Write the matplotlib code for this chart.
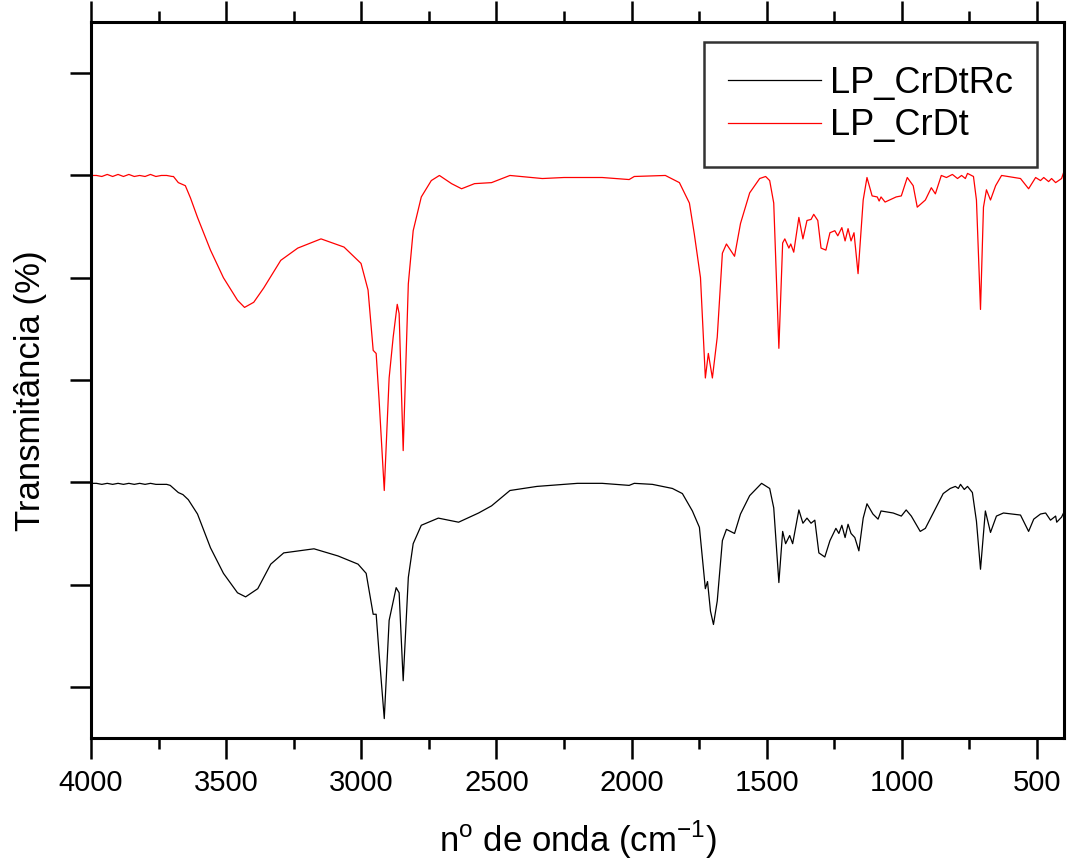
import matplotlib.pyplot as plt
from matplotlib.ticker import MultipleLocator, NullFormatter

plt.rcParams['font.family'] = ['Liberation Sans', 'DejaVu Sans']
plt.rcParams['mathtext.fontset'] = 'custom'
plt.rcParams['mathtext.rm'] = 'Liberation Sans'

# LP_CrDt (red, offset spectrum)
wn_red = [4000, 3980, 3960, 3940, 3920, 3900, 3880, 3860, 3840, 3820, 3800, 3780, 3760, 3740,
          3720, 3700, 3695, 3677, 3660, 3651, 3632, 3606, 3558, 3510, 3458, 3432, 3398, 3361,
          3298, 3235, 3149, 3064, 3001, 2975, 2956, 2945, 2934, 2915, 2897, 2882, 2867, 2860,
          2845, 2826, 2808, 2778, 2741, 2711, 2666, 2629, 2581, 2518, 2450, 2330, 2250, 2109,
          2009, 1990, 1875, 1823, 1786, 1768, 1745, 1738, 1727, 1716, 1701, 1683, 1664, 1649,
          1619, 1597, 1563, 1526, 1504, 1489, 1474, 1455, 1441, 1433, 1418, 1411, 1400, 1381,
          1366, 1351, 1336, 1326, 1311, 1299, 1281, 1266, 1248, 1237, 1222, 1210, 1199, 1188,
          1177, 1162, 1143, 1129, 1110, 1091, 1084, 1077, 1062, 1021, 1002, 980, 958, 943,
          913, 891, 876, 854, 835, 813, 794, 779, 765, 757, 735, 724, 709, 698, 687, 672, 653,
          631, 561, 531, 505, 487, 475, 457, 446, 431, 409, 400]
t_red = [5.00, 5.00, 4.99, 5.01, 4.99, 5.01, 4.99, 5.01, 4.99, 5.00, 4.99, 5.01, 4.99, 5.00,
         5.00, 4.99, 4.99, 4.93, 4.91, 4.90, 4.78, 4.59, 4.27, 4.00, 3.78, 3.71, 3.76, 3.90,
         4.17, 4.29, 4.38, 4.30, 4.14, 3.88, 3.29, 3.26, 2.80, 1.92, 3.02, 3.42, 3.74, 3.65,
         2.31, 3.94, 4.46, 4.79, 4.95, 5.00, 4.92, 4.87, 4.92, 4.93, 5.00, 4.97, 4.98, 4.98,
         4.96, 4.99, 5.00, 4.93, 4.73, 4.43, 4.00, 3.61, 3.02, 3.26, 3.02, 3.42, 4.24, 4.33,
         4.21, 4.53, 4.83, 4.97, 4.99, 4.95, 4.73, 3.31, 4.34, 4.38, 4.29, 4.33, 4.25, 4.59,
         4.38, 4.56, 4.57, 4.62, 4.56, 4.29, 4.27, 4.44, 4.46, 4.41, 4.49, 4.36, 4.48, 4.36,
         4.44, 4.04, 4.76, 4.98, 4.80, 4.79, 4.75, 4.79, 4.74, 4.79, 4.80, 4.98, 4.90, 4.69,
         4.76, 4.88, 4.82, 5.00, 4.98, 5.01, 4.97, 5.00, 4.97, 5.02, 4.99, 4.76, 3.69, 4.69,
         4.86, 4.76, 4.90, 5.00, 4.97, 4.87, 4.98, 4.95, 4.98, 4.94, 4.97, 4.93, 4.97, 5.04]

# LP_CrDtRc (black)
wn_black = [4000, 3980, 3960, 3940, 3920, 3900, 3880, 3860, 3840, 3820, 3800, 3780, 3760, 3740,
            3720, 3707, 3677, 3660, 3640, 3606, 3558, 3510, 3458, 3428, 3383, 3335, 3287, 3175,
            3086, 3012, 2982, 2956, 2945, 2934, 2915, 2897, 2871, 2860, 2845, 2826, 2808, 2778,
            2715, 2640, 2566, 2518, 2450, 2350, 2200, 2109, 2009, 1990, 1923, 1849, 1812, 1775,
            1749, 1738, 1727, 1719, 1708, 1697, 1683, 1664, 1649, 1619, 1597, 1563, 1519, 1489,
            1474, 1455, 1441, 1430, 1415, 1404, 1381, 1366, 1351, 1336, 1322, 1307, 1285, 1266,
            1244, 1233, 1222, 1210, 1199, 1188, 1174, 1159, 1143, 1129, 1107, 1088, 1077, 1032,
            1002, 984, 965, 932, 913, 884, 847, 821, 802, 791, 783, 769, 757, 739, 724, 709, 691,
            672, 650, 624, 561, 531, 512, 487, 468, 450, 431, 427, 409, 400]
t_black = [1.99, 1.99, 1.98, 1.99, 1.98, 1.99, 1.98, 1.99, 1.98, 1.99, 1.98, 1.99, 1.98, 1.98,
           1.98, 1.97, 1.90, 1.88, 1.83, 1.69, 1.36, 1.11, 0.92, 0.88, 0.96, 1.20, 1.31, 1.35,
           1.28, 1.20, 1.11, 0.71, 0.71, 0.32, -0.31, 0.65, 0.97, 0.92, 0.06, 1.07, 1.40, 1.58,
           1.65, 1.61, 1.70, 1.77, 1.92, 1.96, 1.99, 1.99, 1.97, 1.99, 1.98, 1.94, 1.89, 1.72,
           1.56, 1.26, 0.96, 1.03, 0.74, 0.61, 0.84, 1.43, 1.54, 1.50, 1.69, 1.87, 1.99, 1.94,
           1.75, 1.02, 1.52, 1.40, 1.48, 1.40, 1.73, 1.60, 1.65, 1.60, 1.63, 1.31, 1.27, 1.43,
           1.55, 1.50, 1.58, 1.46, 1.59, 1.50, 1.46, 1.33, 1.65, 1.79, 1.69, 1.64, 1.72, 1.70,
           1.67, 1.73, 1.67, 1.52, 1.55, 1.70, 1.89, 1.94, 1.96, 1.94, 1.98, 1.93, 1.96, 1.90,
           1.62, 1.15, 1.72, 1.51, 1.67, 1.70, 1.68, 1.52, 1.64, 1.69, 1.70, 1.63, 1.67, 1.61,
           1.66, 1.71]

fig = plt.figure(figsize=(10.67, 8.64), dpi=100)
ax = fig.add_axes([0.0853, 0.1458, 0.9119, 0.8287])

ax.plot(wn_black, t_black, color='black', lw=0.9, label='LP_CrDtRc')
ax.plot(wn_red, t_red, color='red', lw=0.9, label='LP_CrDt')

ax.set_xlim(4000, 400)
ax.set_ylim(-0.5, 6.5)
ax.xaxis.set_major_locator(MultipleLocator(500))
ax.xaxis.set_minor_locator(MultipleLocator(250))
ax.yaxis.set_major_locator(MultipleLocator(1))
ax.yaxis.set_major_formatter(NullFormatter())

ax.tick_params(axis='x', which='major', direction='out', length=15, width=1.8,
               top=True, labelsize=21, pad=7)
ax.tick_params(axis='x', which='minor', direction='out', length=8, width=1.8, top=True)
ax.tick_params(axis='y', which='major', direction='out', length=15, width=1.8, right=False)
for s in ax.spines.values():
    s.set_linewidth(2.2)

ax.set_xlabel(r'n$^{\mathregular{o}}$ de onda (cm$^{\mathregular{-1}}$)', fontsize=25, labelpad=16)
ax.set_ylabel('Transmitância (%)', fontsize=25)
ax.yaxis.set_label_coords(-0.045, 0.485)

leg = ax.legend(loc='upper right', bbox_to_anchor=(0.972, 0.972), borderaxespad=0,
                fontsize=26, frameon=True, fancybox=False, edgecolor='black',
                handlelength=2.6, handletextpad=0.25, labelspacing=0.22, borderpad=0.65)
leg.get_frame().set_linewidth(1.8)

fig.savefig('out.png', dpi=100)
